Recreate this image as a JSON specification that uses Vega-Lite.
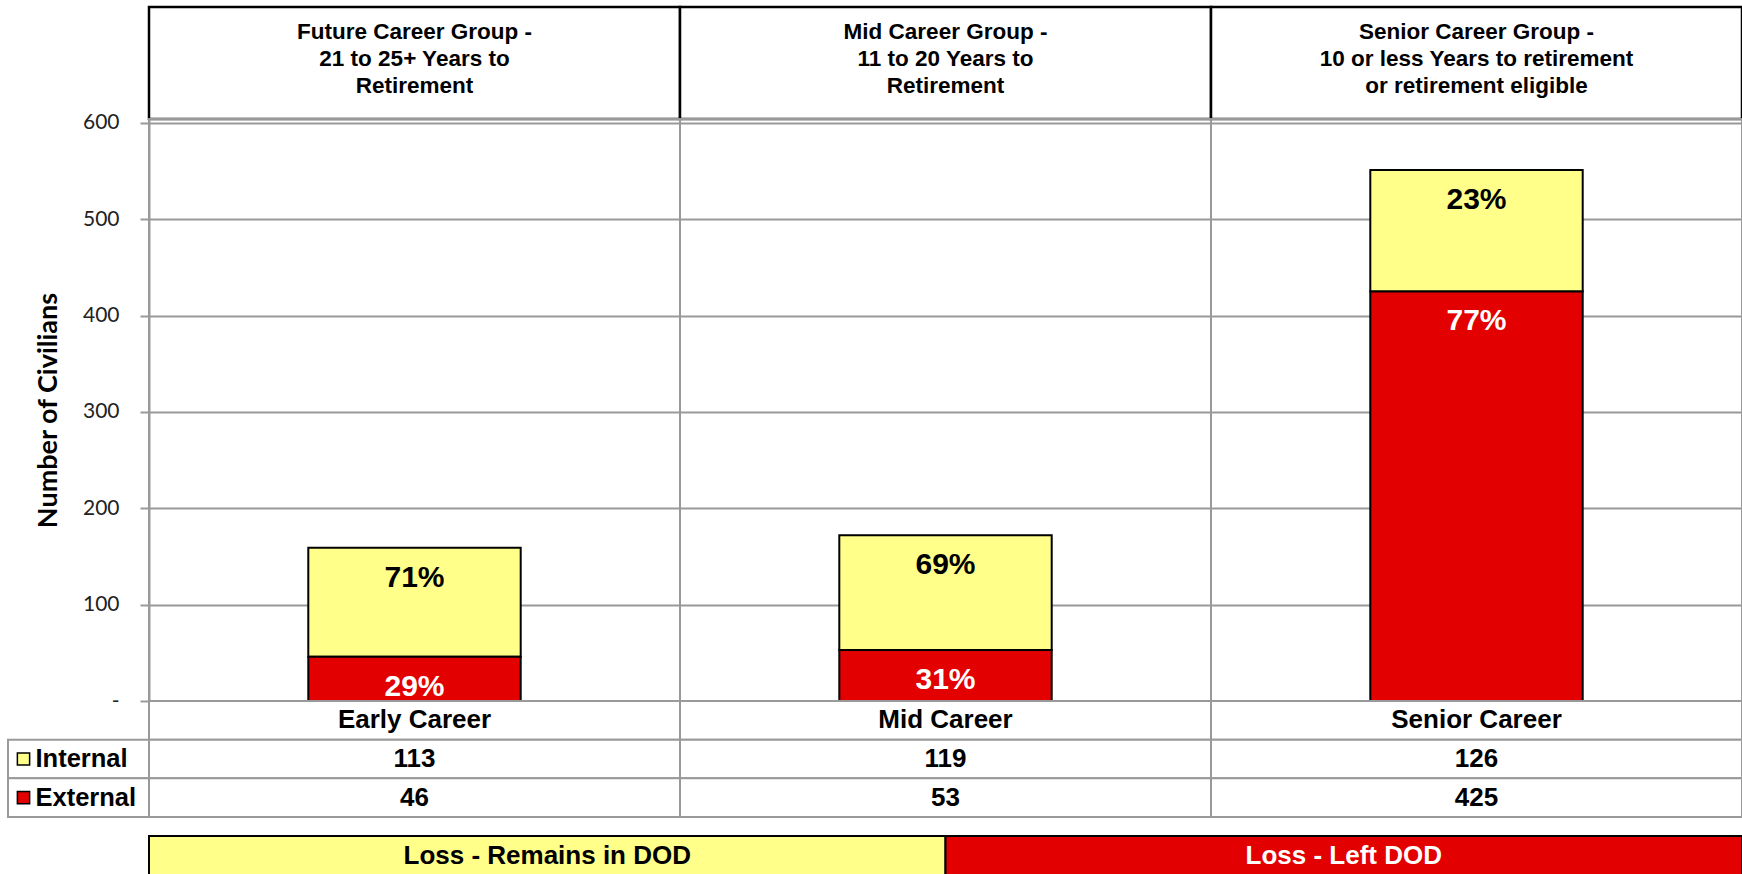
{
  "$schema": "https://vega.github.io/schema/vega-lite/v6.json",
  "padding": {"left": 7, "top": 5, "right": 0, "bottom": 0},
  "background": "white",
  "config": {"view": {"stroke": null}, "font": "Liberation Sans"},
  "datasets": {
    "careers": [
      {"career": "Early Career", "group": "Future Career Group -\n21 to 25+ Years to\nRetirement"},
      {"career": "Mid Career", "group": "Mid Career Group -\n11 to 20 Years to\nRetirement"},
      {"career": "Senior Career", "group": "Senior Career Group -\n10 or less Years to retirement\nor retirement eligible"}
    ],
    "losses": [
      {"career": "Early Career", "type": "Internal", "value": 113, "pct": "71%"},
      {"career": "Early Career", "type": "External", "value": 46, "pct": "29%"},
      {"career": "Mid Career", "type": "Internal", "value": 119, "pct": "69%"},
      {"career": "Mid Career", "type": "External", "value": 53, "pct": "31%"},
      {"career": "Senior Career", "type": "Internal", "value": 126, "pct": "23%"},
      {"career": "Senior Career", "type": "External", "value": 425, "pct": "77%"}
    ],
    "bands": [
      {"label": "Loss - Remains in DOD", "type": "Internal"},
      {"label": "Loss - Left DOD", "type": "External"}
    ]
  },
  "columns": 2,
  "spacing": 0,
  "bounds": "flush",
  "align": "each",
  "concat": [
    {"width": 141, "height": 112, "data": {"values": [{}]}, "mark": {"type": "point", "opacity": 0}},
    {
      "width": 1593, "height": 112,
      "data": {"name": "careers"},
      "encoding": {"x": {"field": "career", "type": "nominal", "scale": {"domain": ["Early Career", "Mid Career", "Senior Career"], "paddingInner": 0, "paddingOuter": 0}, "axis": null}},
      "layer": [
        {"mark": {"type": "rect", "fill": "white", "stroke": "black", "strokeWidth": 2.5}},
        {"mark": {"type": "text", "lineBreak": "\n", "fontWeight": "bold", "fontSize": 22.5, "lineHeight": 27, "baseline": "middle", "dy": -31, "color": "black"}, "encoding": {"text": {"field": "group"}}}
      ]
    },
    {"width": 141, "height": 582, "data": {"values": [{}]}, "mark": {"type": "point", "opacity": 0}},
    {
      "width": 1593, "height": 582,
      "data": {"name": "losses"},
      "encoding": {"x": {"field": "career", "type": "nominal", "scale": {"domain": ["Early Career", "Mid Career", "Senior Career"], "paddingInner": 0, "paddingOuter": 0}, "axis": null}},
      "layer": [
        {
          "transform": [{"filter": "datum.type == 'Internal'"}],
          "mark": {"type": "rect", "filled": false, "stroke": "#999999", "strokeWidth": 2}
        },
        {
          "mark": {"type": "bar", "width": {"band": 0.4}, "stroke": "black", "strokeWidth": 2},
          "encoding": {
            "y": {
              "field": "value", "type": "quantitative", "stack": "zero",
              "scale": {"domain": [0, 604], "nice": false},
              "axis": {
                "values": [0, 100, 200, 300, 400, 500, 600],
                "labelExpr": "datum.value === 0 ? '-\u00a0\u00a0' : datum.label",
                "grid": true, "gridColor": "#999999", "gridWidth": 2,
                "domainColor": "#999999", "domainWidth": 2,
                "tickColor": "#999999", "tickWidth": 2, "tickSize": 9,
                "labelFont": "Lato", "labelFontSize": 21, "labelColor": "#222222", "labelPadding": 21,
                "title": "Number of Civilians", "titleFont": "Lato", "titleFontSize": 27, "titleFontWeight": "bold", "titleColor": "black", "titlePadding": 20
              }
            },
            "color": {"field": "type", "type": "nominal", "scale": {"domain": ["Internal", "External"], "range": ["#FFFF8A", "#E30000"]}, "legend": null},
            "order": {"field": "type", "sort": "ascending"}
          }
        },
        {
          "transform": [{"stack": "value", "groupby": ["career"], "sort": [{"field": "type", "order": "ascending"}], "as": ["v0", "v1"]}],
          "mark": {"type": "text", "baseline": "top", "dy": 15, "fontSize": 30, "fontWeight": "bold"},
          "encoding": {
            "y": {"field": "v1", "type": "quantitative"},
            "text": {"field": "pct"},
            "color": {"condition": {"test": "datum.type == 'External'", "value": "white"}, "value": "black"}
          }
        }
      ]
    },
    {
      "width": 141, "height": 116,
      "data": {"name": "losses"},
      "transform": [{"filter": "datum.career == 'Early Career'"}],
      "encoding": {"y": {"field": "type", "type": "nominal", "scale": {"domain": ["Career", "Internal", "External"], "paddingInner": 0, "paddingOuter": 0}, "axis": null}},
      "layer": [
        {"mark": {"type": "rect", "fill": "white", "stroke": "#999999", "strokeWidth": 2}},
        {"mark": {"type": "point", "shape": "square", "filled": true, "size": 150, "stroke": "black", "strokeWidth": 1.5, "opacity": 1, "xOffset": -55}, "encoding": {"color": {"field": "type", "type": "nominal", "legend": null}}},
        {"mark": {"type": "text", "align": "left", "baseline": "middle", "dx": -43, "fontSize": 25.5, "fontWeight": "bold", "color": "black"}, "encoding": {"text": {"field": "type"}}}
      ]
    },
    {
      "width": 1593, "height": 116,
      "encoding": {"x": {"field": "career", "type": "nominal", "scale": {"domain": ["Early Career", "Mid Career", "Senior Career"], "paddingInner": 0, "paddingOuter": 0}, "axis": null}},
      "layer": [
        {"data": {"name": "careers"}, "mark": {"type": "rect", "fill": "white", "stroke": "#999999", "strokeWidth": 2}, "encoding": {"y": {"datum": "Career", "type": "nominal", "scale": {"domain": ["Career", "Internal", "External"], "paddingInner": 0, "paddingOuter": 0}, "axis": null}}},
        {"data": {"name": "careers"}, "mark": {"type": "text", "fontSize": 26, "fontWeight": "bold", "baseline": "middle", "color": "black"}, "encoding": {"y": {"datum": "Career", "type": "nominal"}, "text": {"field": "career"}}},
        {"data": {"name": "losses"}, "mark": {"type": "rect", "fill": "white", "stroke": "#999999", "strokeWidth": 2}, "encoding": {"y": {"field": "type", "type": "nominal"}}},
        {"data": {"name": "losses"}, "mark": {"type": "text", "fontSize": 26, "fontWeight": "bold", "baseline": "middle", "color": "black"}, "encoding": {"y": {"field": "type", "type": "nominal"}, "text": {"field": "value"}}}
      ]
    },
    {"width": 141, "height": 58, "data": {"values": [{}]}, "mark": {"type": "point", "opacity": 0}},
    {
      "width": 1593, "height": 58,
      "data": {"name": "bands"},
      "encoding": {
        "x": {"field": "label", "type": "nominal", "sort": null, "scale": {"paddingInner": 0, "paddingOuter": 0}, "axis": null},
        "y": {"datum": "band", "type": "nominal", "scale": {"paddingInner": 0, "paddingOuter": 0.2436, "align": 1}, "axis": null}
      },
      "layer": [
        {"mark": {"type": "rect", "stroke": "black", "strokeWidth": 2}, "encoding": {"color": {"field": "type", "type": "nominal", "legend": null}}},
        {"mark": {"type": "text", "fontSize": 26, "fontWeight": "bold", "baseline": "middle"}, "encoding": {"text": {"field": "label"}, "color": {"condition": {"test": "datum.type == 'External'", "value": "white"}, "value": "black"}}}
      ]
    }
  ]
}
